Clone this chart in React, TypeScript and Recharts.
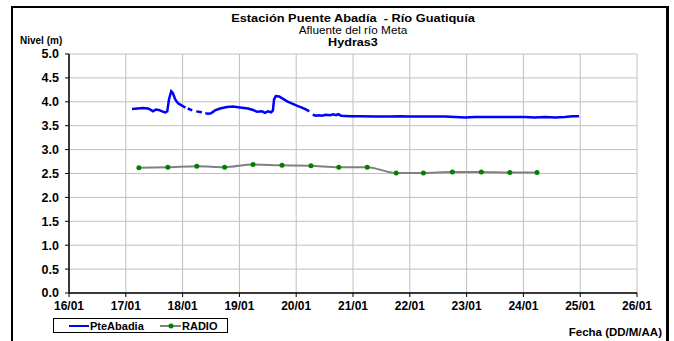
import React from 'react';
import { LineChart, Line, XAxis, YAxis, CartesianGrid } from 'recharts';

const dayTicks = [16, 17, 18, 19, 20, 21, 22, 23, 24, 25, 26];
const dayTickLabels = ['16/01', '17/01', '18/01', '19/01', '20/01', '21/01', '22/01', '23/01', '24/01', '25/01', '26/01'];
const levelTicks = [0, 0.5, 1, 1.5, 2, 2.5, 3, 3.5, 4, 4.5, 5];

const pteTimes = [
  17.11, 17.21, 17.3, 17.39, 17.44, 17.48, 17.53, 17.58, 17.64, 17.69, 17.73, 17.76, 17.8, 17.83, 17.87, 17.92, 17.99, 18.05,
  18.07, 18.09, 18.17, 18.2, 18.24, 18.34, 18.37,
  18.4, 18.45, 18.5, 18.57, 18.66, 18.78, 18.89, 19.01, 19.15, 19.24, 19.31, 19.4, 19.45, 19.5, 19.56, 19.59, 19.61, 19.64,
  19.7, 19.77, 19.84, 19.93, 20.01, 20.1, 20.17, 20.23,
  20.26,
  20.29, 20.35, 20.4, 20.45, 20.52, 20.6, 20.65, 20.7, 20.74, 20.79, 20.95, 21.12, 21.39, 21.65, 21.83, 22.0, 22.27, 22.62,
  22.8, 22.97, 23.15, 23.41, 23.76, 24.03, 24.2, 24.38, 24.56, 24.73, 24.86, 24.98,
];
const pteLevels = [
  3.85, 3.86, 3.87, 3.86, 3.83, 3.8, 3.84, 3.83, 3.8, 3.78, 3.8, 4.05, 4.22, 4.18, 4.05, 3.97, 3.92, 3.88,
  null, 3.86, 3.82, null, 3.8, 3.78, null,
  3.76, 3.75, 3.76, 3.82, 3.86, 3.89, 3.9, 3.88, 3.86, 3.83, 3.79, 3.8, 3.77, 3.8, 3.78, 3.82, 4.05, 4.12,
  4.11, 4.06, 4.01, 3.96, 3.92, 3.88, 3.84, 3.8,
  null,
  3.73, 3.71, 3.72, 3.71, 3.73, 3.72, 3.74, 3.72, 3.74, 3.71, 3.7, 3.7, 3.69, 3.69, 3.7, 3.69, 3.69, 3.69,
  3.68, 3.67, 3.68, 3.68, 3.68, 3.68, 3.67, 3.68, 3.67, 3.68, 3.7, 3.7,
];

const radioTimes = [17.23, 17.74, 18.25, 18.74, 19.24, 19.75, 20.26, 20.75, 21.25, 21.76, 22.24, 22.75, 23.26, 23.76, 24.24];
const radioLevels = [2.62, 2.63, 2.65, 2.63, 2.69, 2.67, 2.66, 2.63, 2.63, 2.51, 2.51, 2.53, 2.53, 2.52, 2.52];

const seriesNames = ['PteAbadia', 'RADIO'];

const pteData = pteTimes.map((t, i) => ({ t, v: pteLevels[i] }));
const radioData = radioTimes.map((t, i) => ({ t, v: radioLevels[i] }));

const FONT = '"Liberation Sans", Arial, sans-serif';

const titleLine = (top: number, size: number, bold: boolean, sx: number): React.CSSProperties => ({
  position: 'absolute',
  left: 69,
  width: 568,
  top,
  textAlign: 'center',
  fontSize: size,
  fontWeight: bold ? 'bold' : 'normal',
  lineHeight: '12px',
  transform: `scaleX(${sx})`,
  transformOrigin: '284px 50%',
});

export default function App() {
  return (
    <div style={{ position: 'absolute', left: 0, top: 0, width: 674, height: 341, overflow: 'hidden', background: '#fff', fontFamily: FONT }}>
      <div style={{ position: 'absolute', left: 11, top: 6, width: 653, height: 400, borderTop: '2px solid #000', borderLeft: '2px solid #000', borderRight: '3px solid #000' }} />
      <div style={{ position: 'absolute', left: 0, top: 0 }}>
        <LineChart width={674} height={341} margin={{ top: 54, right: 37, left: 9, bottom: 18 }}>
          <CartesianGrid stroke="#c0c0c0" strokeWidth={1} />
          <XAxis
            dataKey="t"
            type="number"
            domain={[16, 26]}
            ticks={dayTicks}
            tickFormatter={(v: number) => dayTickLabels[dayTicks.indexOf(v)]}
            allowDataOverflow
            height={30}
            stroke="#000"
            tickSize={4}
            tickMargin={4}
            tick={{ fill: '#000', fontSize: 12, fontWeight: 'bold', fontFamily: FONT }}
            axisLine={{ stroke: '#000', strokeWidth: 1.5 }}
            tickLine={{ stroke: '#000' }}
          />
          <YAxis
            type="number"
            domain={[0, 5]}
            ticks={levelTicks}
            tickFormatter={(v: number) => v.toFixed(1)}
            width={60}
            tickSize={4}
            tickMargin={6}
            tick={{ fill: '#000', fontSize: 12.5, fontWeight: 'bold', fontFamily: FONT }}
            axisLine={{ stroke: '#000', strokeWidth: 1.5 }}
            tickLine={{ stroke: '#000' }}
          />
          <Line
            data={radioData}
            dataKey="v"
            name={seriesNames[1]}
            type="monotone"
            stroke="#808080"
            strokeWidth={2}
            dot={{ r: 2.5, fill: '#008000', stroke: '#008000', strokeWidth: 0 }}
            isAnimationActive={false}
          />
          <Line
            data={pteData}
            dataKey="v"
            name={seriesNames[0]}
            type="linear"
            stroke="#0000ff"
            strokeWidth={2.5}
            dot={false}
            isAnimationActive={false}
          />
        </LineChart>
      </div>
      <div style={titleLine(12, 10.5, true, 1.22)}>Estación Puente Abadía&nbsp; - Río Guatiquía</div>
      <div style={titleLine(24, 10.5, false, 1.12)}>Afluente del río Meta</div>
      <div style={titleLine(36, 10.5, true, 1.2)}>Hydras3</div>
      <div style={{ position: 'absolute', left: 20, top: 35, fontSize: 10, fontWeight: 'bold', lineHeight: '11px' }}>
        Nivel (m)
      </div>
      <div style={{ position: 'absolute', right: 12, top: 326, fontSize: 11.5, fontWeight: 'bold', lineHeight: '13px' }}>
        Fecha (DD/M/AA)
      </div>
      <div style={{ position: 'absolute', left: 53, top: 318, width: 173, height: 13, border: '1px solid #000', background: '#fff' }}>
        <svg width={173} height={13} style={{ position: 'absolute', left: 0, top: 0 }}>
          <line x1={15} x2={35} y1={7} y2={7} stroke="#0000ff" strokeWidth={2} />
          <text x={36} y={10.5} fontSize={11} fontWeight="bold" fontFamily={FONT} fill="#000">{seriesNames[0]}</text>
          <line x1={106} x2={127} y1={7} y2={7} stroke="#808080" strokeWidth={2} />
          <circle cx={117} cy={7} r={2.5} fill="#008000" />
          <text x={128} y={10.5} fontSize={11} fontWeight="bold" fontFamily={FONT} fill="#000">{seriesNames[1]}</text>
        </svg>
      </div>
    </div>
  );
}
